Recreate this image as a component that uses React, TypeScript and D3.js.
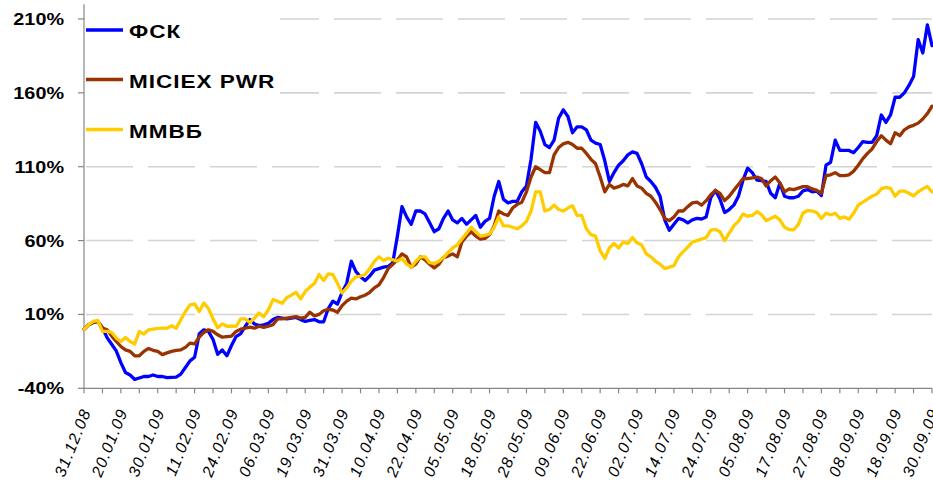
import React from 'react';
import * as d3 from 'd3';

const dateLabels = [
  '31.12.08', '20.01.09', '30.01.09', '11.02.09', '24.02.09', '06.03.09', '19.03.09', '31.03.09',
  '10.04.09', '22.04.09', '05.05.09', '18.05.09', '28.05.09', '09.06.09', '22.06.09', '02.07.09',
  '14.07.09', '24.07.09', '05.08.09', '17.08.09', '27.08.09', '08.09.09', '18.09.09', '30.09.09',
];

const seriesNames = ['ФСК', 'MICIEX PWR', 'ММВБ'];
const seriesColors = ['#0000FF', '#993300', '#FFCC00'];

const fsk = [
  0, 3, 4.6, 5.3, 1, -5.7, -10.2, -14.7, -22.6, -29.3,
  -31, -34, -33, -32, -32, -31, -32, -32, -32.8, -32.6,
  -32.4, -30.4, -25.9, -21.4, -19, -3.3, -0.4, -1.5, -7, -17,
  -14, -18, -11, -5, -3, 2, 6.5, 3.5, 2.5, 3,
  4, 6.5, 8, 7.5, 7, 7.5, 8, 6.5, 5.3, 6,
  6.5, 5, 5, 14, 19, 17, 25, 31, 46, 39,
  35.5, 33, 36, 40, 41, 42, 42.5, 45, 63, 83,
  76, 71, 80, 80, 78, 72, 66, 68, 75, 80,
  74, 72, 75, 71, 74, 77, 69, 73, 75, 90,
  100, 88, 85.5, 86.5, 86.6, 93, 97, 115, 140, 134,
  125, 123, 128, 143, 148.5, 144, 133, 137, 137, 135,
  128, 126, 125, 114, 100, 106, 111, 114, 118, 120,
  119, 112, 103, 100, 96, 90, 74, 67, 71, 75,
  74, 72, 74, 75, 74.6, 76, 89, 94, 88, 79,
  81, 84, 90, 101, 109, 106, 101, 100.5, 100, 92,
  89, 99, 90, 89, 89, 90, 93.6, 94.5, 93, 93.5,
  90.5, 111, 113, 128, 121, 121, 121, 119.5, 123, 127,
  126.5, 126.5, 131, 145, 140, 145, 157, 157, 160, 165,
  171, 196, 187, 206, 192,
];

const micex = [
  0, 3, 4.6, 5.3, 0.8, -0.4, -4.5, -8.3, -11.7, -14,
  -15, -18, -18, -15, -13, -14.3, -15, -17.2, -16, -15,
  -14.3, -14, -12.3, -9.4, -10, -5.4, -2.2, -0.4, -1.5, -3.8,
  -5.4, -5, -4.7, -1.5, 0, 0.7, 1.4, 0.7, 2, 1.2,
  2, 3, 7, 7, 7.5, 8, 8.5, 7.5, 8, 11.5,
  9, 10, 12.5, 13.5, 13, 11.5, 16, 19, 21, 20.5,
  22, 23, 25, 28, 30, 35, 41, 44, 47, 51,
  49, 42, 44, 49, 47, 44, 41.5, 44, 48.5, 49.5,
  51, 49, 59, 63, 66, 63, 61, 61.5, 64, 70,
  80, 78, 77, 82, 84.5, 86, 93, 103, 110, 108,
  106, 106, 118, 123, 125.5, 126.5, 125, 122.5, 122.5, 119,
  115, 112, 103, 93, 98, 95.5, 96.5, 98, 97, 102,
  97, 95.5, 92, 90, 86, 81, 75, 73.5, 76, 80,
  80, 83, 85.5, 86, 84, 87, 91, 94, 92, 87,
  90, 94, 98, 102, 102, 102.5, 103, 102, 97, 100.5,
  103, 99, 93, 95, 94.5, 95.5, 96.5, 96.5, 95, 94,
  92, 104, 104.5, 106, 104, 104, 104.5, 107, 111, 115.5,
  119, 122, 127, 131, 128, 125.5, 133, 131, 135, 137,
  138, 139.5, 142.3, 146, 151,
];

const mmvb = [
  0, 3, 5.3, 6, -1.5, -1.5, -2.2, -6, -8.3, -5.6,
  -8.3, -10, -1.5, -3.3, -0.4, 0, 0.5, 0.7, 0.7, 2.3,
  0.7, 6.4, 12, 16.5, 17.2, 12, 17.7, 14, 7, 1,
  3.5, 2, 2, 2, 7, 7, 4.5, 7.5, 11, 8.5,
  13, 20, 19, 17.5, 21.5, 23, 25, 20.5, 25.5, 28.5,
  31, 37, 33, 37.5, 37, 31, 24.5, 28, 32.5, 35.5,
  36, 37, 41, 46, 49, 46.5, 48, 47, 46, 48,
  44, 42, 46, 49, 49, 45, 44.5, 46, 48.5, 52,
  55, 57, 61, 65, 69, 66, 63, 63.5, 64.5, 69,
  76, 70, 70, 69, 68, 70, 73, 80, 93, 93,
  80, 81, 84, 81, 80, 82, 83.5, 77, 77, 68,
  64, 63, 53, 48, 55, 58, 55, 59, 58, 62,
  58.5, 57, 51, 49, 46, 44, 41, 42, 43, 49,
  52.5, 55.5, 59, 60, 61, 62, 67, 67.5, 66, 60,
  65, 70, 73, 78, 76.5, 77, 79.5, 77.5, 73.5, 75,
  76.5, 74, 69, 67.5, 67.3, 71, 78.5, 80.5, 80, 79,
  75, 78.5, 77.5, 78.5, 75, 76, 74.5, 78.5, 84, 86,
  88, 90, 91.5, 95, 96, 95.4, 90, 93.5, 93.5, 92,
  90.2, 93, 95, 96.6, 93,
];

const yTicks = [-40, 10, 60, 110, 160, 210];

const FONT = '"Liberation Sans", Arial, Helvetica, sans-serif';

export default function App() {
  const W = 933;
  const H = 493;
  const n = fsk.length;
  const x = d3.scaleLinear().domain([0, n - 1]).range([84, 932]);
  const y = d3.scaleLinear().domain([-40, 220]).range([388.3, 4.2]);
  const line = d3
    .line<number>()
    .x((_, i) => x(i))
    .y((d) => y(d));

  const labelStep = (n - 1) / (dateLabels.length - 1);
  const minorStep = labelStep / 2;
  const minorTicks = d3.range(0, n, minorStep);
  const series = [fsk, micex, mmvb];

  const legendY = [30, 79.5, 129.5];

  return (
    <svg
      width={W}
      height={H}
      style={{ position: 'absolute', left: 0, top: 0, background: '#fff' }}
      fontFamily={FONT}
    >
      <rect x={0} y={0} width={W} height={H} fill="#fff" />
      {/* gridlines */}
      {yTicks
        .filter((t) => t !== -40)
        .map((t) => (
          <line
            key={'g' + t}
            x1={x(0) + 2}
            x2={x(n - 1)}
            y1={y(t)}
            y2={y(t)}
            stroke="#d4d4d4"
            strokeWidth={1.6}
            strokeDasharray="47 15"
          />
        ))}
      {/* y axis */}
      <line x1={x(0)} x2={x(0)} y1={y(220)} y2={y(-40)} stroke="#868686" strokeWidth={1.2} />
      {yTicks.map((t) => (
        <g key={'yt' + t}>
          <line x1={x(0) - 6} x2={x(0)} y1={y(t)} y2={y(t)} stroke="#868686" strokeWidth={1.2} />
          <g transform={`translate(64,${y(t)}) scale(1.2,1)`}>
            <text textAnchor="end" dy="0.36em" fontSize={16.5} fontWeight="bold" fill="#000">
              {t}%
            </text>
          </g>
        </g>
      ))}
      {/* x axis */}
      <line x1={x(0)} x2={x(n - 1)} y1={y(-40)} y2={y(-40)} stroke="#868686" strokeWidth={1.2} />
      {minorTicks.map((i) => (
        <line
          key={'xt' + i}
          x1={x(i)}
          x2={x(i)}
          y1={y(-40)}
          y2={y(-40) + 5}
          stroke="#868686"
          strokeWidth={1.2}
        />
      ))}
      {dateLabels.map((lab, k) => (
        <text
          key={'xl' + k}
          transform={`translate(${x(k * labelStep) + 2},${y(-40) + 21}) rotate(-68)`}
          textAnchor="end"
          dy="0.35em"
          fontSize={16}
          fontStyle="italic"
          letterSpacing={1.2}
          fill="#000"
        >
          {lab}
        </text>
      ))}
      {/* legend background */}
      <rect x={85} y={6} width={195} height={142} fill="#fff" />
      {/* series */}
      {series.map((s, k) => (
        <path
          key={'s' + k}
          d={line(s) || ''}
          fill="none"
          stroke={seriesColors[k]}
          strokeWidth={3.3}
          strokeLinejoin="round"
          strokeLinecap="round"
        />
      ))}
      {/* legend */}
      {seriesNames.map((name, k) => (
        <g key={'lg' + k}>
          <line
            x1={86}
            x2={123}
            y1={legendY[k]}
            y2={legendY[k]}
            stroke={seriesColors[k]}
            strokeWidth={3.5}
          />
          <g transform={`translate(129,${legendY[k] + 8.3}) scale(1.22,1)`}>
            <text fontSize={18.5} fontWeight="bold" letterSpacing={0.8} fill="#000">
              {name}
            </text>
          </g>
        </g>
      ))}
    </svg>
  );
}
